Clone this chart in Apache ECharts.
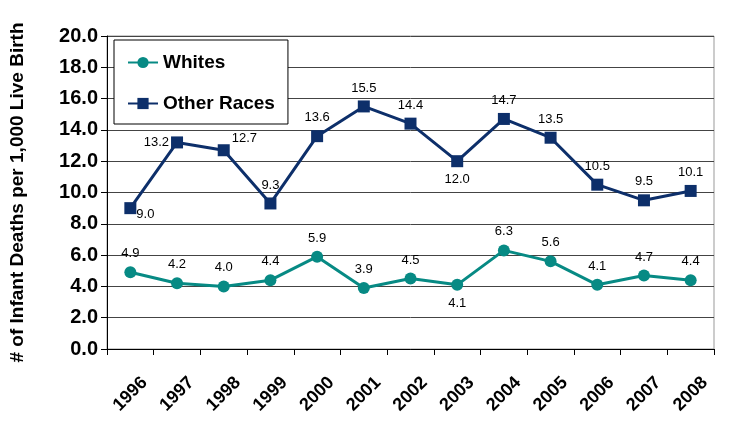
<!DOCTYPE html>
<html>
<head>
<meta charset="utf-8">
<script src="https://cdn.jsdelivr.net/npm/echarts@6/dist/echarts.min.js"></script>
<style>
  html, body { margin: 0; padding: 0; background: #fff; }
  #chart { width: 734px; height: 421px; }
</style>
</head>
<body>
<div id="chart"></div>
<script>
var years = ['1996', '1997', '1998', '1999', '2000', '2001', '2002', '2003', '2004', '2005', '2006', '2007', '2008'];
var whites = [4.9, 4.2, 4.0, 4.4, 5.9, 3.9, 4.5, 4.1, 6.3, 5.6, 4.1, 4.7, 4.4];
var otherRaces = [9.0, 13.2, 12.7, 9.3, 13.6, 15.5, 14.4, 12.0, 14.7, 13.5, 10.5, 9.5, 10.1];

// where each value label sits relative to its point
var whitesLabelPos = ['top', 'top', 'top', 'top', 'top', 'top', 'top', 'bottom', 'top', 'top', 'top', 'top', 'top'];
var otherLabelPos = [[12, 6], 'left', [14, -12], 'top', 'top', 'top', 'top', 'bottom', 'top', 'top', 'top', 'top', 'top'];

var FONT = '"Liberation Sans", Arial, sans-serif';

function withLabels(values, positions) {
  return values.map(function (v, i) {
    var lab = { position: positions[i] };
    if (positions[i] === 'left') lab.distance = 2;
    return { value: v, label: lab };
  });
}

var chart = echarts.init(document.getElementById('chart'));

var option = {
  backgroundColor: '#fff',
  animation: false,
  textStyle: { fontFamily: FONT },
  grid: {
    left: 106,
    right: 20,
    top: 36,
    bottom: 72,
    show: true,
    borderColor: '#999',
    borderWidth: 1
  },
  legend: {
    orient: 'vertical',
    left: 114,
    top: 40,
    padding: [13, 13, 11, 13],
    itemGap: 22,
    itemWidth: 30,
    itemHeight: 14,
    backgroundColor: '#fff',
    borderColor: '#000',
    borderWidth: 1,
    textStyle: { fontFamily: FONT, fontSize: 19, fontWeight: 'bold', color: '#000' },
    data: ['Whites', 'Other Races']
  },
  xAxis: {
    type: 'category',
    data: years,
    boundaryGap: true,
    axisLine: { lineStyle: { color: '#000', width: 1 } },
    axisTick: { show: true, length: 6, lineStyle: { color: '#000' } },
    axisLabel: {
      rotate: 45,
      align: 'center',
      verticalAlign: 'middle',
      margin: 45,
      fontFamily: FONT,
      fontSize: 18,
      fontWeight: 'bold',
      color: '#000'
    }
  },
  yAxis: {
    type: 'value',
    min: 0,
    max: 20,
    interval: 2,
    name: '# of Infant Deaths per 1,000 Live Birth',
    nameLocation: 'middle',
    nameGap: 80,
    nameTextStyle: { fontFamily: FONT, fontSize: 19, fontWeight: 'bold', color: '#000' },
    axisLine: { show: true, lineStyle: { color: '#000' } },
    axisTick: { show: true, length: 6, lineStyle: { color: '#000' } },
    splitLine: { lineStyle: { color: '#444', width: 1 } },
    axisLabel: {
      margin: 9,
      fontFamily: FONT,
      fontSize: 20,
      fontWeight: 'bold',
      color: '#000',
      formatter: function (v) { return v.toFixed(1); }
    }
  },
  series: [
    {
      name: 'Whites',
      type: 'line',
      data: withLabels(whites, whitesLabelPos),
      color: '#078a84',
      symbol: 'circle',
      symbolSize: 12,
      lineStyle: { width: 3, color: '#078a84' },
      itemStyle: { color: '#078a84' },
      label: {
        show: true,
        distance: 6,
        fontFamily: FONT,
        fontSize: 13,
        color: '#000',
        formatter: function (p) { return p.value.toFixed(1); }
      }
    },
    {
      name: 'Other Races',
      type: 'line',
      data: withLabels(otherRaces, otherLabelPos),
      color: '#0d2f6a',
      symbol: 'rect',
      symbolSize: 12,
      lineStyle: { width: 3, color: '#0d2f6a' },
      itemStyle: { color: '#0d2f6a' },
      label: {
        show: true,
        distance: 6,
        fontFamily: FONT,
        fontSize: 13,
        color: '#000',
        formatter: function (p) { return p.value.toFixed(1); }
      }
    }
  ]
};

chart.setOption(option);
</script>
</body>
</html>
